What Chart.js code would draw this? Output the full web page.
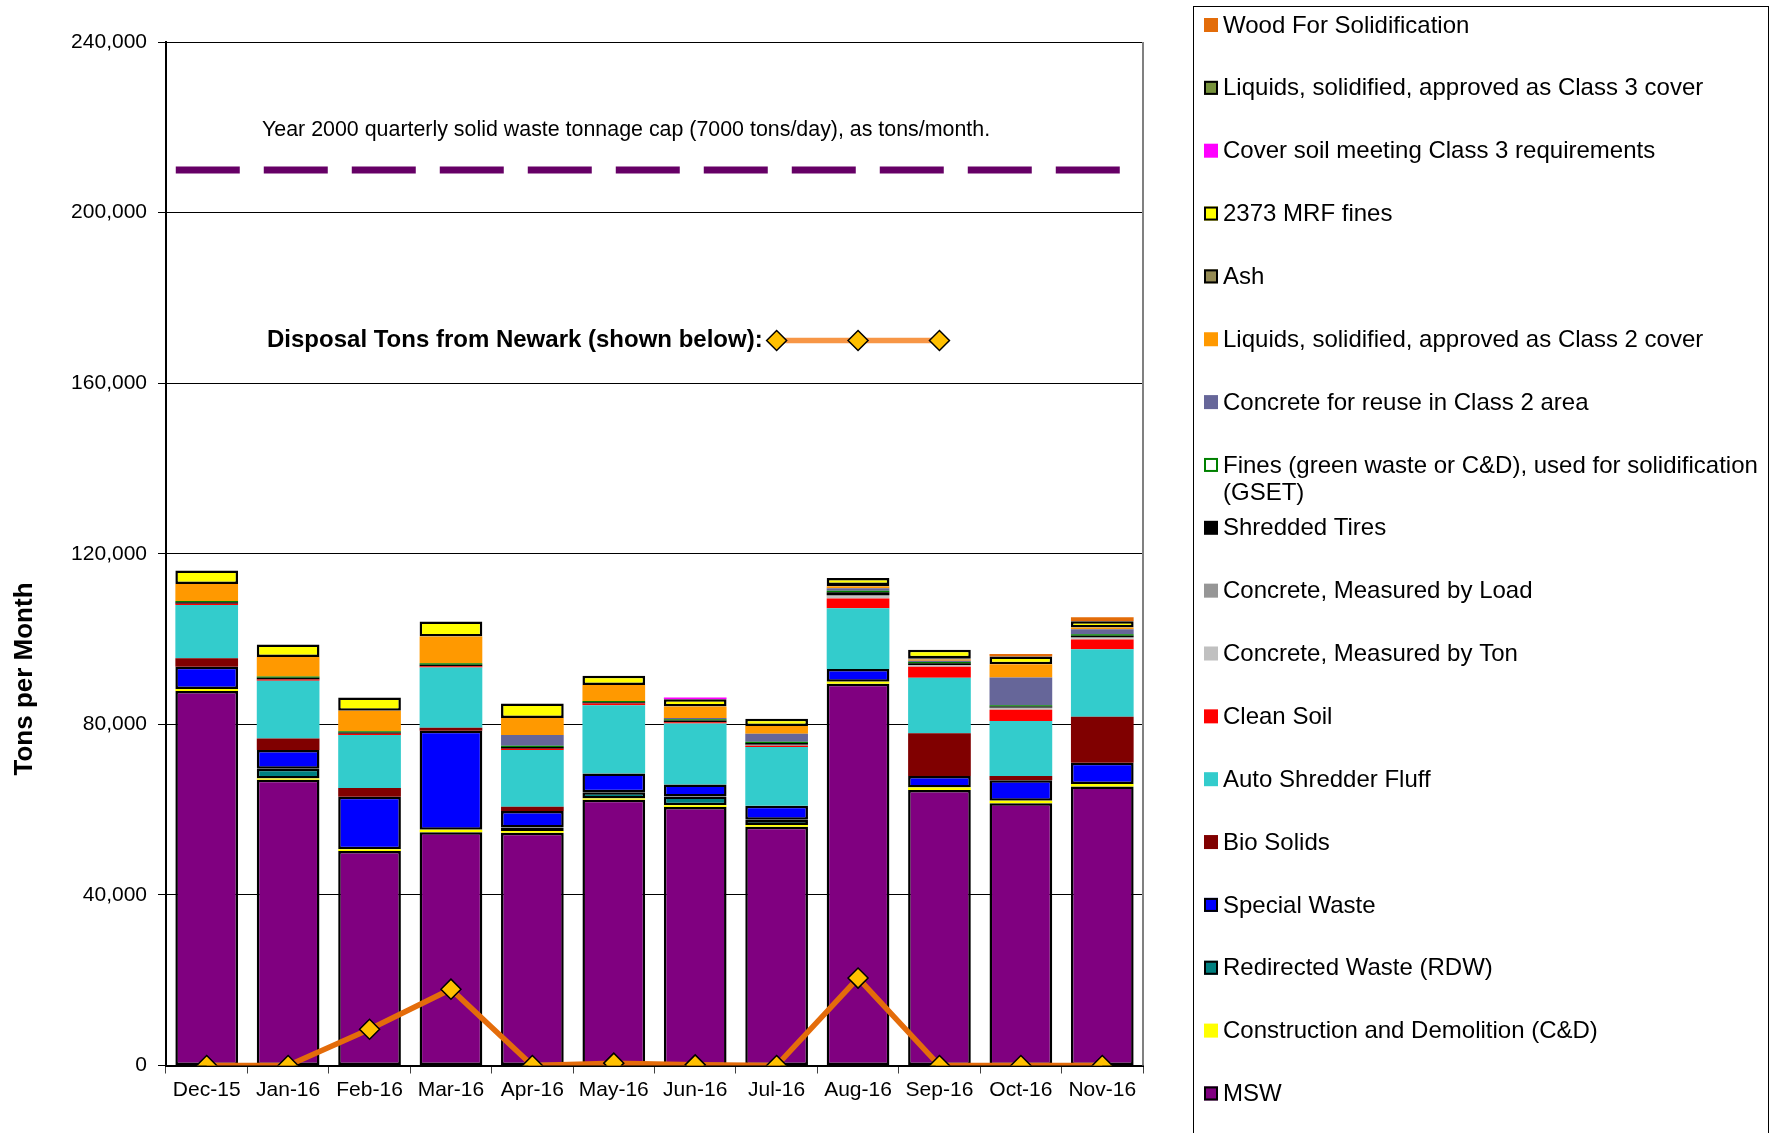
<!DOCTYPE html>
<html>
<head>
<meta charset="utf-8">
<title>Tons per Month</title>
<script src="https://cdn.jsdelivr.net/npm/chart.js@4.4.1/dist/chart.umd.min.js"></script>
<style>
  html, body { margin: 0; padding: 0; background: #fff; }
  #wrap { width: 1769px; height: 1133px; }
</style>
</head>
<body>
<div id="wrap"><canvas id="tonsChart" width="1769" height="1133"></canvas></div>
<script>
  // categories
  var months = ["Dec-15", "Jan-16", "Feb-16", "Mar-16", "Apr-16", "May-16",
    "Jun-16", "Jul-16", "Aug-16", "Sep-16", "Oct-16", "Nov-16"];

  // stacked series, bottom to top (tons)
  var msw = [87800, 67000, 50300, 54700, 54600, 62300, 60600, 56000, 89500, 64600, 61500, 65400];
  var cAndD = [500, 300, 400, 600, 400, 300, 400, 400, 500, 600, 600, 600];
  var redirected = [0, 2300, 0, 0, 800, 1500, 2100, 1200, 0, 0, 0, 0];
  var specialWaste = [5200, 4400, 12300, 23200, 3900, 4400, 2800, 3300, 3000, 2700, 4800, 5000];
  var bioSolids = [2000, 2700, 2100, 700, 1000, 0, 0, 0, 0, 10000, 1000, 10800];
  var fluff = [12500, 13500, 12400, 14100, 13300, 16000, 14300, 13800, 14200, 13000, 12900, 15800];
  var cleanSoil = [300, 300, 300, 300, 300, 400, 300, 300, 2300, 2600, 2600, 2300];
  var concreteTon = [0, 0, 0, 0, 0, 0, 0, 0, 500, 400, 500, 300];
  var concreteLoad = [0, 0, 0, 0, 0, 0, 0, 200, 300, 0, 0, 300];
  var tires = [300, 400, 300, 400, 400, 300, 400, 400, 700, 400, 300, 300];
  var fines = [300, 300, 300, 300, 300, 300, 300, 300, 300, 300, 300, 300];
  var concreteReuse = [0, 0, 0, 0, 2500, 0, 300, 1900, 600, 300, 6500, 1200];
  var liquids2 = [4000, 4600, 4800, 6300, 4000, 3700, 2700, 1800, 500, 300, 3100, 400];
  var ash = [0, 0, 0, 0, 0, 0, 0, 0, 300, 300, 0, 0];
  var mrfFines = [3200, 2900, 3100, 3500, 3400, 2200, 1700, 1700, 1600, 2000, 1800, 1500];
  var coverSoil = [0, 0, 0, 0, 0, 0, 400, 0, 0, 0, 0, 0];
  var liquids3 = [0, 0, 0, 0, 0, 0, 0, 0, 0, 0, 0, 0];
  var wood = [0, 0, 0, 0, 0, 0, 0, 0, 0, 0, 600, 900];

  // line series
  var newarkTons = [0, 0, 8500, 17900, 0, 550, 150, 0, 20500, 0, 0, 0];
  var newarkKey = [null, null, null, null, null, null, null, 170000, 170000, 170000, null, null];
  var capTons = 210000; // 7000 tons/day * 30
  var capSpan = [-0.38, 11.22]; // in month units

  var yTickValues = [0, 40000, 80000, 120000, 160000, 200000, 240000];

  var FONT = "'Liberation Sans', Arial, sans-serif";
  Chart.defaults.font.family = FONT;
  Chart.defaults.color = "#000";

  function barSet(label, data, color, bordered, swatch) {
    return {
      label: label,
      data: data,
      backgroundColor: color,
      borderColor: "#000",
      borderWidth: bordered ? 2.5 : 0,
      borderSkipped: false,
      stack: "tons",
      grouped: false,
      yAxisID: "y",
      xAxisID: "x",
      order: 3,
      swatch: swatch || null,
    };
  }

  var barSets = [
    barSet("MSW", msw, "#800080", true),
    barSet("Construction and Demolition (C&D)", cAndD, "#FFFF00", false),
    barSet("Redirected Waste (RDW)", redirected, "#008080", true),
    barSet("Special Waste", specialWaste, "#0000FF", true),
    barSet("Bio Solids", bioSolids, "#800000", false),
    barSet("Auto Shredder Fluff", fluff, "#33CCCC", false),
    barSet("Clean Soil", cleanSoil, "#FF0000", false),
    barSet("Concrete, Measured by Ton", concreteTon, "#C0C0C0", false),
    barSet("Concrete, Measured by Load", concreteLoad, "#969696", false),
    barSet("Shredded Tires", tires, "#000000", false),
    barSet(["Fines (green waste or C&D), used for solidification", "(GSET)"], fines, "#008000", false,
      { fill: "#FFFFFF", stroke: "#008000" }),
    barSet("Concrete for reuse in Class 2 area", concreteReuse, "#666699", false),
    barSet("Liquids, solidified, approved as Class 2 cover", liquids2, "#FF9900", false),
    barSet("Ash", ash, "#948A54", true),
    barSet("2373 MRF fines", mrfFines, "#FFFF00", true),
    barSet("Cover soil meeting Class 3 requirements", coverSoil, "#FF00FF", false),
    barSet("Liquids, solidified, approved as Class 3 cover", liquids3, "#77933C", true),
    barSet("Wood For Solidification", wood, "#E36C09", false),
  ];

  var diamond = {
    pointStyle: "rectRot",
    pointRadius: 10,
    pointHoverRadius: 10,
    pointBackgroundColor: "#FFC000",
    pointBorderColor: "#000",
    pointBorderWidth: 1.5,
  };

  var lineSets = [
    Object.assign({
      type: "line",
      label: "Disposal Tons from Newark",
      data: newarkTons,
      borderColor: "#E46C0A",
      borderWidth: 5.5,
      tension: 0,
      yAxisID: "yLine",
      order: 1,
    }, diamond),
    Object.assign({
      type: "line",
      label: "Disposal Tons from Newark (shown below):",
      data: newarkKey,
      borderColor: "#F79646",
      borderWidth: 5.5,
      tension: 0,
      yAxisID: "yLine",
      order: 1,
    }, diamond),
    {
      type: "line",
      label: "Year 2000 quarterly solid waste tonnage cap (7000 tons/day), as tons/month.",
      data: [{ x: capSpan[0], y: capTons }, { x: capSpan[1], y: capTons }],
      borderColor: "#660066",
      borderWidth: 7,
      borderDash: [64, 24],
      borderCapStyle: "butt",
      pointRadius: 0,
      xAxisID: "xCap",
      yAxisID: "yLine",
      order: 2,
    },
  ];

  // texts, plot frame and the boxed legend on the right
  var overlayPlugin = {
    id: "overlay",
    afterDraw: function (chart) {
      var ctx = chart.ctx;
      var area = chart.chartArea;
      ctx.save();

      ctx.strokeStyle = "#808080";
      ctx.lineWidth = 2;
      ctx.beginPath();
      ctx.moveTo(area.right, area.top);
      ctx.lineTo(area.right, area.bottom);
      ctx.stroke();

      ctx.fillStyle = "#000";
      ctx.textBaseline = "middle";
      ctx.textAlign = "left";
      ctx.font = "21.4px " + FONT;
      ctx.fillText(lineSets[2].label, area.left + 96, 130);

      // label in front of the first key point
      var keyIndex = newarkKey.findIndex(function (v) { return v !== null; });
      var keyMeta = chart.getDatasetMeta(barSets.length + 1);
      var pt = keyMeta.data[keyIndex];
      ctx.font = "bold 24px " + FONT;
      ctx.textAlign = "right";
      ctx.fillText(lineSets[1].label, pt.x - 14, pt.y);

      // y axis title
      ctx.save();
      ctx.translate(25, 679);
      ctx.rotate(-Math.PI / 2);
      ctx.textAlign = "center";
      ctx.font = "bold 26px " + FONT;
      ctx.fillText("Tons per Month", 0, 0);
      ctx.restore();

      // legend
      ctx.strokeStyle = "#000";
      ctx.lineWidth = 1;
      ctx.strokeRect(1193.5, 6.5, 575, 1200);
      ctx.font = "24px " + FONT;
      ctx.textAlign = "left";
      var items = barSets.slice().reverse();
      items.forEach(function (ds, i) {
        var cy = 25 + i * 62.85;
        var fill = ds.swatch ? ds.swatch.fill : ds.backgroundColor;
        ctx.fillStyle = fill;
        ctx.fillRect(1204, cy - 7, 14, 14);
        if (ds.swatch) {
          ctx.strokeStyle = ds.swatch.stroke;
          ctx.lineWidth = 2;
          ctx.strokeRect(1205, cy - 6, 12, 12);
        } else if (ds.borderWidth) {
          ctx.strokeStyle = "#000";
          ctx.lineWidth = 2;
          ctx.strokeRect(1205, cy - 6, 12, 12);
        }
        ctx.fillStyle = "#000";
        var lines = Array.isArray(ds.label) ? ds.label : [ds.label];
        lines.forEach(function (t, j) {
          ctx.fillText(t, 1223, cy + 1 + j * 27);
        });
      });
      ctx.restore();
    },
  };

  var ctx = document.getElementById("tonsChart").getContext("2d");
  var chart = new Chart(ctx, {
    type: "bar",
    data: {
      labels: months,
      datasets: barSets.concat(lineSets),
    },
    options: {
      responsive: false,
      devicePixelRatio: 1,
      animation: false,
      layout: { padding: { left: 0, right: 626, top: 42, bottom: 0 } },
      datasets: {
        bar: { barPercentage: 0.77, categoryPercentage: 1.0 },
      },
      plugins: {
        legend: { display: false },
        tooltip: { enabled: false },
      },
      scales: {
        x: {
          type: "category",
          stacked: true,
          offset: true,
          grid: { offset: true, drawOnChartArea: false, tickLength: 8, color: "#404040", lineWidth: 1 },
          border: { color: "#000", width: 2 },
          ticks: { font: { size: 21 }, padding: 4, maxRotation: 0, autoSkip: false, color: "#000" },
          afterFit: function (scale) { scale.height = 67.5; },
        },
        xCap: {
          type: "linear",
          display: false,
          offset: false,
          grid: { offset: false },
          min: -0.5,
          max: months.length - 0.5,
        },
        y: {
          stacked: true,
          min: 0,
          max: 240000,
          grid: { color: "#000", lineWidth: 1, tickLength: 8 },
          border: { color: "#000", width: 2 },
          ticks: {
            font: { size: 21 },
            padding: 11,
            color: "#000",
            callback: function (v) { return v.toLocaleString("en-US"); },
          },
          afterBuildTicks: function (scale) {
            scale.ticks = yTickValues.map(function (v) { return { value: v }; });
          },
          afterFit: function (scale) { scale.width = 166; },
        },
        yLine: {
          display: false,
          stacked: false,
          min: 0,
          max: 240000,
        },
      },
    },
    plugins: [overlayPlugin],
  });
</script>
</body>
</html>
